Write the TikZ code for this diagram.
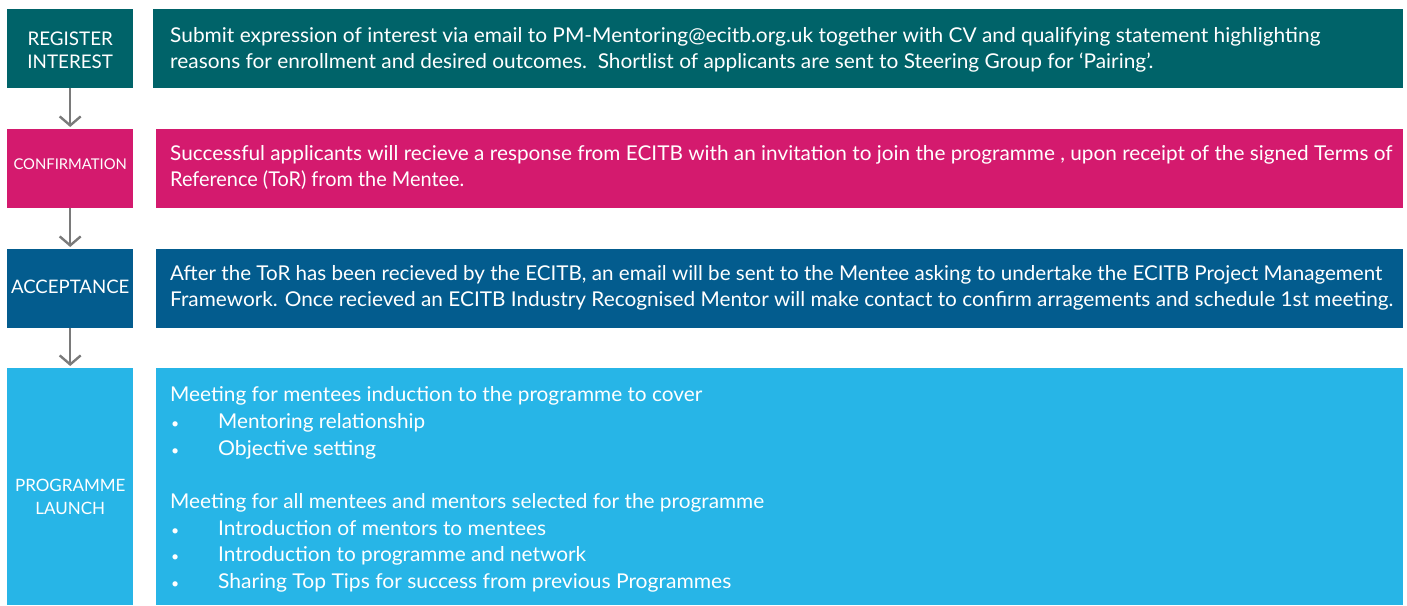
\documentclass[tikz,border=0pt]{standalone}
\usepackage{fontspec}
\usepackage{graphicx}
\setmainfont{Lato}
\usetikzlibrary{arrows.meta}
\definecolor{cteal}{RGB}{0,99,105}
\definecolor{cmag}{RGB}{212,26,110}
\definecolor{cblue}{RGB}{3,92,142}
\definecolor{ccyan}{RGB}{39,181,231}
\definecolor{carrow}{RGB}{122,122,122}
\newcommand{\fitw}[2]{\hbox{\resizebox{#1}{\height}{#2}}}
\newcommand{\bulw}[2]{\hbox{\makebox[48pt][l]{\hspace{1pt}{\fontsize{14}{14}\selectfont •}}\resizebox{#1}{\height}{#2}}}
\begin{document}
\begin{tikzpicture}[x=1pt,y=-1pt,
  lbox/.style={draw=none,anchor=north west,minimum width=126pt,inner sep=0pt},
  ltext/.style={text=white,align=center,inner sep=0pt,font=\fontsize{18.8}{23}\selectfont},
  rbox/.style={draw=none,anchor=north west,inner sep=0pt},
  rtext/.style={anchor=base west,text=white,inner sep=0pt},
  flow/.style={draw=carrow,line width=2.4pt,-{Straight Barb[length=9pt,width=21pt,line width=2.4pt]},shorten >=2pt}]
\useasboundingbox (0,0) rectangle (1407,605);
% left boxes
\node[lbox,fill=cteal,minimum height=79pt] (l1) at (7,9) {};
\node[lbox,fill=cmag,minimum height=79pt] (l2) at (7,129) {};
\node[lbox,fill=cblue,minimum height=79pt] (l3) at (7,249) {};
\node[lbox,fill=ccyan,minimum height=237pt] (l4) at (7,368) {};
% left labels
\node[ltext,yshift=-2pt] (lt1) at (l1.center) {REGISTER\\INTEREST};
\node[ltext,yshift=5pt,font=\fontsize{14.8}{18}\selectfont] (lt2) at (l2.center) {CONFIRMATION};
\node[ltext,yshift=2pt,font=\fontsize{18.6}{23}\selectfont] (lt3) at (l3.center) {ACCEPTANCE};
\node[ltext,yshift=-10pt,font=\fontsize{17}{23}\selectfont] (lt4) at (l4.center) {PROGRAMME\\LAUNCH};
% right boxes
\node[rbox,fill=cteal,minimum width=1250pt,minimum height=79pt] (r1) at (153,9) {};
\node[rbox,fill=cmag,minimum width=1247pt,minimum height=79pt] (r2) at (156,129) {};
\node[rbox,fill=cblue,minimum width=1247pt,minimum height=79pt] (r3) at (156,249) {};
\node[rbox,fill=ccyan,minimum width=1247pt,minimum height=237pt] (r4) at (156,368) {};
% texts
\node[rtext,xshift=17pt,yshift=-33.5pt,font=\fontsize{20.4}{26}\selectfont] (t1) at (r1.north west)
 {\vtop{%
  \fitw{1150pt}{Submit expression of interest via email to PM-Mentoring@ecitb.org.uk together with CV and qualifying statement highlighting}
  \fitw{983pt}{reasons for enrollment and desired outcomes.\ \ Shortlist of applicants are sent to Steering Group for ‘Pairing’.}}};
\node[rtext,xshift=14pt,yshift=-31pt,font=\fontsize{20.4}{26.6}\selectfont] (t2) at (r2.north west)
 {\vtop{%
  \fitw{1222pt}{Successful applicants will recieve a response from ECITB with an invitation to join the programme , upon receipt of the signed Terms of}
  \fitw{294pt}{Reference (ToR) from the Mentee.}}};
\node[rtext,xshift=14pt,yshift=-31pt,font=\fontsize{20.4}{26.6}\selectfont] (t3) at (r3.north west)
 {\vtop{%
  \fitw{1212pt}{After the ToR has been recieved by the ECITB, an email will be sent to the Mentee asking to undertake the ECITB Project Management}
  \fitw{1223pt}{Framework. Once recieved an ECITB Industry Recognised Mentor will make contact to confirm arragements and schedule 1st meeting.}}};
\node[rtext,xshift=14pt,yshift=-33.7pt,font=\fontsize{20.4}{26.7}\selectfont] (t4) at (r4.north west)
 {\vtop{%
  \fitw{532pt}{Meeting for mentees induction to the programme to cover}
  \bulw{207pt}{Mentoring relationship}
  \bulw{158pt}{Objective setting}
  \hbox{}
  \fitw{594pt}{Meeting for all mentees and mentors selected for the programme}
  \bulw{328pt}{Introduction of mentors to mentees}
  \bulw{368pt}{Introduction to programme and network}
  \bulw{513pt}{Sharing Top Tips for success from previous Programmes}}};
% arrows
\draw[flow] (l1.south) -- (l2.north);
\draw[flow] (l2.south) -- (l3.north);
\draw[flow] (l3.south) -- (l4.north);
\end{tikzpicture}
\end{document}
